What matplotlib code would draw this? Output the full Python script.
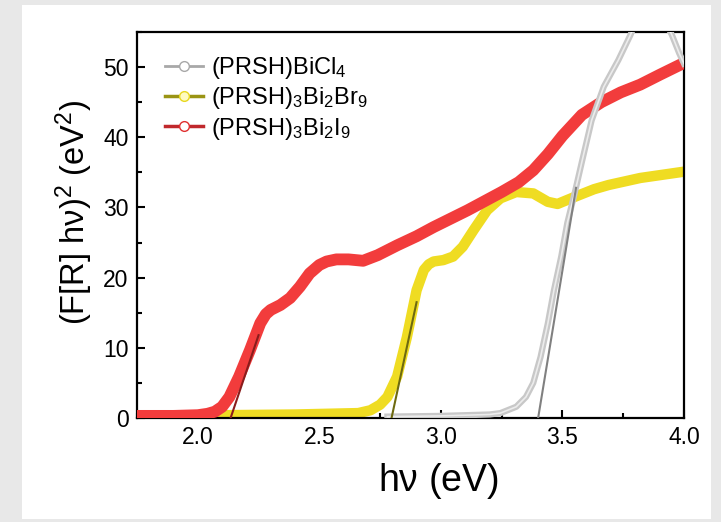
import matplotlib
matplotlib.use("Agg")
import matplotlib.pyplot as plt
from matplotlib.patches import Rectangle
from matplotlib.lines import Line2D
from matplotlib.ticker import MultipleLocator

plt.rcParams["font.family"] = ["Liberation Sans", "DejaVu Sans"]
plt.rcParams["mathtext.fontset"] = "custom"
plt.rcParams["mathtext.rm"] = "Liberation Sans"
plt.rcParams["mathtext.it"] = "Liberation Sans"

# (PRSH)3Bi2I9
e_red = [1.75, 1.90, 2.00, 2.04, 2.07, 2.10, 2.13, 2.17, 2.215, 2.257, 2.28, 2.30, 2.34,
         2.38, 2.42, 2.46, 2.50, 2.53, 2.57, 2.62, 2.68, 2.74, 2.82, 2.90, 2.97,
         3.11, 3.25, 3.32, 3.38, 3.44, 3.50, 3.58, 3.66, 3.74, 3.82, 3.90, 4.00]
y_red = [0.3, 0.3, 0.4, 0.6, 0.9, 1.6, 3.0, 5.9, 9.7, 13.5, 14.8, 15.4, 16.1,
         17.1, 18.7, 20.6, 21.8, 22.3, 22.6, 22.6, 22.4, 23.2, 24.6, 25.9, 27.2,
         29.6, 32.2, 33.6, 35.3, 37.6, 40.2, 43.2, 45.0, 46.4, 47.5, 48.9, 50.6]

# (PRSH)3Bi2Br9
e_yel = [2.10, 2.40, 2.66, 2.71, 2.75, 2.78, 2.82, 2.86, 2.90, 2.93, 2.95, 2.97, 3.01,
         3.05, 3.09, 3.135, 3.19, 3.245, 3.31, 3.38, 3.44, 3.48, 3.55, 3.63, 3.69,
         3.82, 4.00]
y_yel = [0.4, 0.5, 0.7, 1.1, 1.9, 3.0, 5.9, 11.5, 18.2, 21.1, 21.9, 22.3, 22.5,
         23.0, 24.4, 26.8, 29.6, 31.3, 32.2, 32.0, 30.8, 30.5, 31.5, 32.6, 33.2,
         34.2, 35.1]

# (PRSH)BiCl4
e_gray = [2.78, 3.00, 3.20, 3.245, 3.31, 3.35, 3.38, 3.41, 3.44, 3.465, 3.495, 3.52,
          3.55, 3.58, 3.62, 3.67, 3.73, 3.78, 3.82, 3.86, 3.90, 3.95, 3.98, 4.00]
y_gray = [0.2, 0.3, 0.5, 0.7, 1.6, 3.0, 5.0, 8.7, 13.5, 18.2, 23.0, 27.8,
          32.0, 36.5, 42.4, 47.2, 51.0, 54.6, 58.0, 60.0, 58.0, 54.6, 52.0, 50.5]

# tangent lines (band gap fits)
fit_red_x, fit_red_y = [2.135, 2.25], [0, 11.8]
fit_yel_x, fit_yel_y = [2.797, 2.90], [0, 16.5]
fit_gray_x, fit_gray_y = [3.40, 3.556], [0, 32.8]

labels = [r"(PRSH)BiCl$_4$", r"(PRSH)$_3$Bi$_2$Br$_9$", r"(PRSH)$_3$Bi$_2$I$_9$"]

fig = plt.figure(figsize=(7.21, 5.22), dpi=100, facecolor="#e8e8e8")
fig.patches.append(Rectangle((22 / 721, 3 / 522), 689 / 721, 514 / 522,
                             transform=fig.transFigure, facecolor="white",
                             edgecolor="none", zorder=-10))
ax = fig.add_axes([137 / 721, 1 - 418 / 522, 547 / 721, 386 / 522])
ax.set_facecolor("white")

ax.plot(e_yel, y_yel, color="#efdc22", lw=7.5, solid_capstyle="round", zorder=2)
ax.plot(e_red, y_red, color="#f23c3c", lw=8.5, solid_capstyle="round", zorder=3)
ax.plot(e_gray, y_gray, color="#c8c8c8", lw=4.5, zorder=4)
ax.plot(e_gray, y_gray, color="#ececec", lw=1.2, zorder=4)

ax.plot(fit_red_x, fit_red_y, color="#8a1c1c", lw=1.5, zorder=5)
ax.plot(fit_yel_x, fit_yel_y, color="#6e6a10", lw=1.5, zorder=5)
ax.plot(fit_gray_x, fit_gray_y, color="#808080", lw=1.5, zorder=5)

ax.set_xlim(1.75, 4.0)
ax.set_ylim(0, 55)
ax.xaxis.set_major_locator(MultipleLocator(0.5))
ax.xaxis.set_minor_locator(MultipleLocator(0.25))
ax.yaxis.set_major_locator(MultipleLocator(10))
ax.yaxis.set_minor_locator(MultipleLocator(5))
ax.tick_params(which="both", direction="in", width=1.5, labelsize=16.5)
ax.tick_params(which="major", length=6, pad=6)
ax.tick_params(which="minor", length=3.5)
for s in ax.spines.values():
    s.set_linewidth(1.6)

ax.set_xlabel(r"h$\nu$ (eV)", fontsize=27)
ax.set_ylabel(r"(F[R] h$\nu$)$^2$ (eV$^2$)", fontsize=23.5)
ax.xaxis.set_label_coords(0.55, -0.112)
ax.yaxis.set_label_coords(-0.077, 0.534)

handles = [
    Line2D([], [], color="#a8a8a8", lw=2, marker="o", ms=7, mfc="white", mec="#a8a8a8"),
    Line2D([], [], color="#9a9414", lw=2.5, marker="o", ms=7, mfc="#fffbc0", mec="#e8d820"),
    Line2D([], [], color="#c0282c", lw=2.5, marker="o", ms=7, mfc="white", mec="#e03030"),
]
ax.legend(handles, labels, loc="upper left", frameon=False, fontsize=17,
          handlelength=1.6, handletextpad=0.35, labelspacing=0.18,
          bbox_to_anchor=(0.013, 0.995))

fig.savefig("out.png", dpi=100, facecolor=fig.get_facecolor())
